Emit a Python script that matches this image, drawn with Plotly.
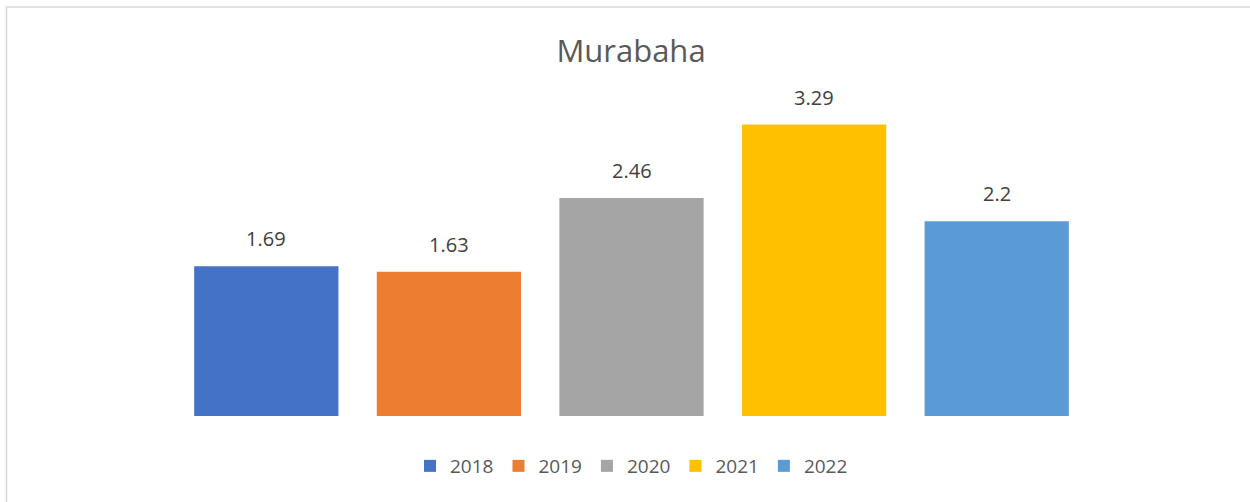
import plotly.graph_objects as go

years = ["2018", "2019", "2020", "2021", "2022"]
values = [1.69, 1.63, 2.46, 3.29, 2.2]
labels = ["1.69", "1.63", "2.46", "3.29", "2.2"]
colors = ["#4472C4", "#ED7D31", "#A5A5A5", "#FFC000", "#5B9BD5"]

W, H = 1250, 502
L, R, T, B = 175, 162, 106, 86
FONT = "Open Sans, Lato, sans-serif"

fig = go.Figure()
for i, (yr, v, c) in enumerate(zip(years, values, colors)):
    fig.add_trace(go.Bar(x=[i], y=[v], name=yr, marker=dict(color=c, line=dict(width=0)),
                         width=0.79, hoverinfo="skip"))

for i, (v, t) in enumerate(zip(values, labels)):
    fig.add_annotation(x=i, y=v, text=t, showarrow=False, yanchor="bottom", yshift=12,
                       font=dict(family=FONT, size=20, color="#404040"))

pw = W - L - R
ph = H - T - B
fig.add_shape(type="rect", xref="paper", yref="paper",
              x0=(6.5 - L) / pw, x1=(1260 - L) / pw,
              y0=(H - B - 520) / ph, y1=(H - B - 7) / ph,
              line=dict(color="#D9D9D9", width=1.5), layer="below")

fig.update_layout(
    width=W, height=H,
    margin=dict(l=L, r=R, t=T, b=B),
    paper_bgcolor="white", plot_bgcolor="white",
    barmode="overlay",
    title=dict(text="Murabaha", x=631 / W, xanchor="center", y=1 - 51 / H, yanchor="middle",
               font=dict(family=FONT, size=31, color="#595959")),
    xaxis=dict(range=[-0.5, 4.5], showticklabels=False, showgrid=False, zeroline=False,
               showline=False, ticks=""),
    yaxis=dict(range=[0, 3.5], visible=False, showgrid=False, zeroline=False),
    legend=dict(orientation="h", x=0.5, xanchor="center", y=-(466 - (H - B)) / ph, yanchor="middle",
                font=dict(family=FONT, size=19, color="#595959"),
                itemwidth=30, traceorder="normal"),
    showlegend=True,
)

fig.write_html("out.html", config={"displayModeBar": False},
               post_script="document.body.style.margin='0';")
